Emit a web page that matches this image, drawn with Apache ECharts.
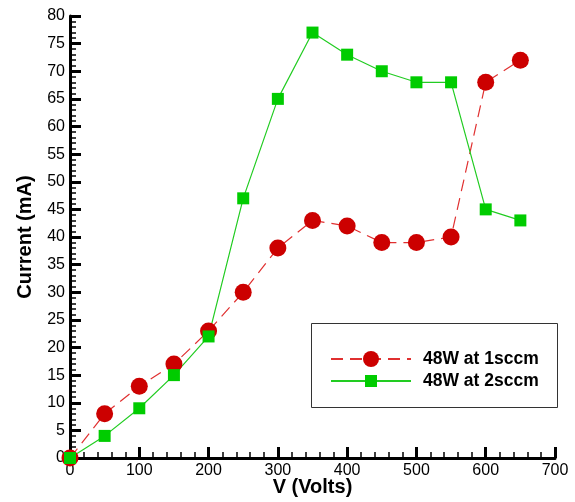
<!DOCTYPE html>
<html>
<head>
<meta charset="utf-8">
<script src="https://cdn.jsdelivr.net/npm/echarts@6/dist/echarts.min.js"></script>
<style>html,body{margin:0;padding:0;background:#fff}#c{width:575px;height:502px}</style>
</head>
<body>
<div id="c"></div>
<script>
const voltages = [0, 50, 100, 150, 200, 250, 300, 350, 400, 450, 500, 550, 600, 650];
const current1sccm = [0, 8, 13, 17, 23, 30, 38, 43, 42, 39, 39, 40, 68, 72];
const current2sccm = [0, 4, 9, 15, 22, 47, 65, 77, 73, 70, 68, 68, 45, 43];
const seriesNames = ['48W at 1sccm', '48W at 2sccm'];

const font = 'Liberation Sans, Arial, sans-serif';
const legendText = { fontFamily: font, fontWeight: 'bold', fontSize: 17.5, color: '#000', padding: [0, 0, 0, 7] };
const chart = echarts.init(document.getElementById('c'));
chart.setOption({
  animation: false,
  grid: { left: 70, top: 16, right: 20, bottom: 44, containLabel: false, outerBoundsMode: 'none' },
  xAxis: {
    type: 'value', min: 0, max: 700, interval: 100,
    name: 'V (Volts)', nameLocation: 'middle', nameGap: 19, nameMoveOverlap: false,
    nameTextStyle: { fontFamily: font, fontWeight: 'bold', fontSize: 20, color: '#000' },
    axisLine: { show: true, onZero: false, lineStyle: { color: '#000', width: 3 } },
    axisTick: { show: true, inside: true, length: 11, lineStyle: { color: '#000', width: 3 } },
    minorTick: { show: true, splitNumber: 5, length: 6, lineStyle: { color: '#000', width: 1.5 } },
    axisLabel: { fontFamily: font, fontSize: 16, color: '#000', margin: 5 },
    splitLine: { show: false }
  },
  yAxis: {
    type: 'value', min: 0, max: 80, interval: 5,
    name: 'Current (mA)', nameLocation: 'middle', nameGap: 35, nameMoveOverlap: false,
    nameTextStyle: { fontFamily: font, fontWeight: 'bold', fontSize: 20, color: '#000' },
    axisLine: { show: true, onZero: false, lineStyle: { color: '#000', width: 3 } },
    axisTick: { show: true, inside: true, length: 11, lineStyle: { color: '#000', width: 3 } },
    minorTick: { show: true, splitNumber: 5, length: 6, lineStyle: { color: '#000', width: 1.5 } },
    axisLabel: { fontFamily: font, fontSize: 16, color: '#000', margin: 5 },
    splitLine: { show: false }
  },
  graphic: [{
    type: 'rect', left: 311, top: 323, z: 0,
    shape: { width: 246, height: 84 },
    style: { fill: '#fff', stroke: '#333', lineWidth: 1 }
  }],
  legend: [
    {
      left: 330, top: 350, padding: 0, itemWidth: 80, itemHeight: 20, z: 10,
      textStyle: legendText, data: [seriesNames[0]]
    },
    {
      left: 330, top: 372, padding: 0, itemWidth: 80, itemHeight: 15, z: 10,
      textStyle: legendText, data: [seriesNames[1]]
    }
  ],
  series: [
    {
      name: seriesNames[0], type: 'line',
      data: voltages.map((v, i) => [v, current1sccm[i]]),
      symbol: 'circle', symbolSize: 17,
      itemStyle: { color: '#cc0000' },
      lineStyle: { color: '#e03030', width: 1.2, type: [12, 7] }
    },
    {
      name: seriesNames[1], type: 'line',
      data: voltages.map((v, i) => [v, current2sccm[i]]),
      symbol: 'rect', symbolSize: 12,
      itemStyle: { color: '#00cc00' },
      lineStyle: { color: '#22cc22', width: 1.2 }
    }
  ]
});
</script>
</body>
</html>
